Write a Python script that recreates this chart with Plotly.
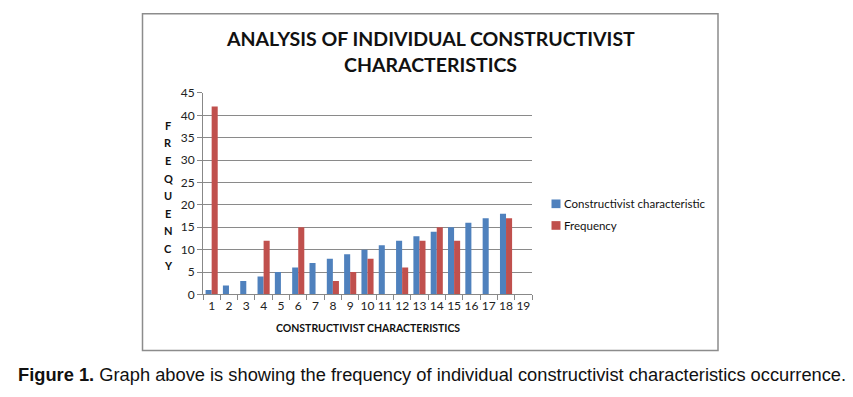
import plotly.graph_objects as go

W, H = 853, 397

categories = [str(i) for i in range(1, 20)]
constructivist = [1, 2, 3, 4, 5, 6, 7, 8, 9, 10, 11, 12, 13, 14, 15, 16, 17, 18, None]
frequency = [42, None, None, 12, None, 15, None, 3, 5, 8, None, 6, 12, 15, 12, None, None, 17, None]
series_names = ["Constructivist characteristic", "Frequency"]
series_colors = ["#4F81BD", "#C0504D"]
y_letters = list("FREQUENCY")

title_lines = ["ANALYSIS OF INDIVIDUAL CONSTRUCTIVIST", "CHARACTERISTICS"]
x_title = "CONSTRUCTIVIST CHARACTERISTICS"
caption_bold = "Figure 1."
caption_text = " Graph above is showing the frequency of individual constructivist characteristics occurrence."

def px(x):
    return x / W

def py(y):
    return 1 - y / H

fig = go.Figure()
for name, vals, col in zip(series_names, [constructivist, frequency], series_colors):
    fig.add_trace(go.Bar(x=categories, y=vals, name=name, marker=dict(color=col, line=dict(width=0)),
                         showlegend=False))

fig.update_layout(
    width=W, height=H, autosize=False,
    margin=dict(l=0, r=0, t=0, b=0),
    paper_bgcolor="white", plot_bgcolor="white",
    barmode="group", bargap=0.3, bargroupgap=0,
    font=dict(family="Lato", color="#222"),
    xaxis=dict(domain=[px(203), px(532)], type="category", tickson="boundaries",
               ticks="outside", ticklen=5, tickcolor="#888", showline=True, linecolor="#888",
               showgrid=False, tickangle=0, tickfont=dict(size=12, family="Lato", color="#222"),
               fixedrange=True),
    yaxis=dict(domain=[py(297.7), py(88.3)], range=[0, 45], dtick=5, ticks="outside",
               ticklen=5, tickcolor="#888", showline=True, linecolor="#888",
               showgrid=True, gridcolor="#8a8a8a", gridwidth=1, zeroline=False,
               tickfont=dict(size=12, family="Lato", color="#222"), fixedrange=True),
)

# chart border
fig.add_shape(type="rect", xref="paper", yref="paper", x0=px(142.5), x1=px(718), y0=py(356), y1=py(6),
              line=dict(color="#8c8c8c", width=1.5), fillcolor="rgba(0,0,0,0)", layer="below")

# title
for txt, yc in zip(title_lines, [32, 59]):
    fig.add_annotation(text="<b>%s</b>" % txt, xref="paper", yref="paper", x=px(430), y=py(yc),
                       showarrow=False, xanchor="center", yanchor="middle",
                       font=dict(size=19.5, family="Lato", color="#111"))

# x axis title
fig.add_annotation(text="<b>%s</b>" % x_title, xref="paper", yref="paper", x=px(368), y=py(333),
                   showarrow=False, xanchor="center", yanchor="middle",
                   font=dict(size=10.5, family="Lato", color="#111"))

# y axis title, stacked letters
n = len(y_letters)
for i, ch in enumerate(y_letters):
    yc = 122 + i * (268 - 122) / (n - 1)
    fig.add_annotation(text="<b>%s</b>" % ch, xref="paper", yref="paper", x=px(168), y=py(yc),
                       showarrow=False, xanchor="center", yanchor="middle",
                       font=dict(size=11, family="Lato", color="#111"))

# legend
for i, (name, col) in enumerate(zip(series_names, series_colors)):
    yc = 203.5 + i * 22.5
    fig.add_shape(type="rect", xref="paper", yref="paper", x0=px(551.5), x1=px(560.5),
                  y0=py(yc + 4.5), y1=py(yc - 4.5), fillcolor=col, line=dict(width=0))
    fig.add_annotation(text=name, xref="paper", yref="paper", x=px(562), y=py(yc),
                       showarrow=False, xanchor="left", yanchor="middle",
                       font=dict(size=11.5, family="Lato", color="#111"))

# caption
fig.add_annotation(text="<b>%s</b>%s" % (caption_bold, caption_text), xref="paper", yref="paper",
                   x=px(16), y=py(381), showarrow=False, xanchor="left", yanchor="middle",
                   font=dict(size=18.3, family="Liberation Sans", color="#111"))

fig.write_html(
    "out.html",
    config={"displayModeBar": False},
    post_script=(
        "var s=document.documentElement.style;s.margin='0';s.padding='0';s.overflow='hidden';s.height='397px';"
        "var b=document.body.style;b.margin='0';b.padding='0';b.overflow='hidden';b.height='397px';"
    ),
)
